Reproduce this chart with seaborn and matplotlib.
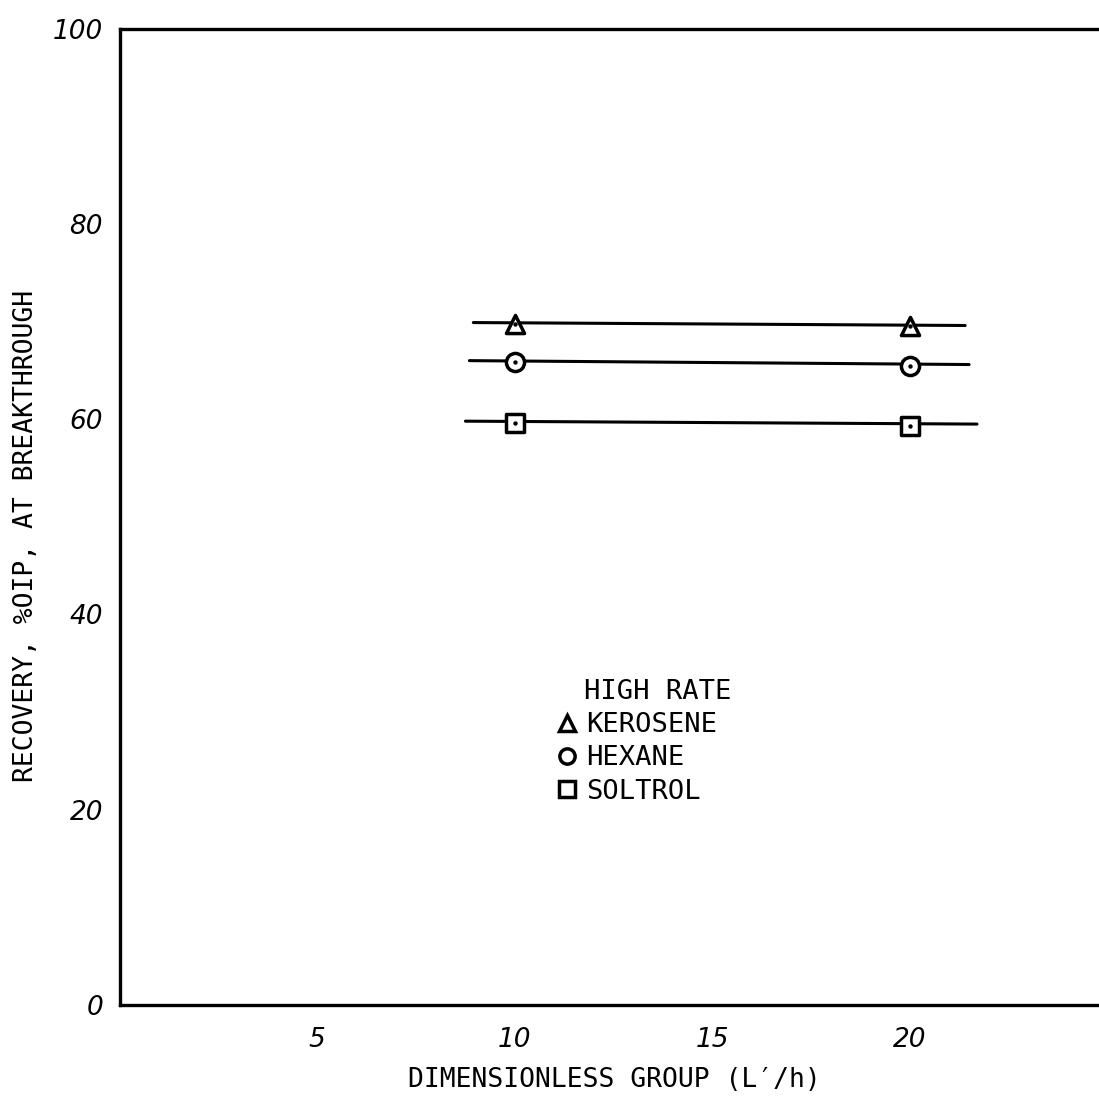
import matplotlib
matplotlib.use("Agg")
import matplotlib.pyplot as plt
import seaborn as sns
import pandas as pd
from matplotlib.lines import Line2D

# ---- data ----
fluids = ["KEROSENE", "HEXANE", "SOLTROL"]
x_points = [10, 20]
kerosene_pts = [69.8, 69.5]
hexane_pts = [65.9, 65.5]
soltrol_pts = [59.6, 59.3]

# fitted lines (start x, end x, start y, end y)
line_x_start = [8.95, 8.85, 8.75]
line_x_end = [21.4, 21.5, 21.7]
line_y_start = [69.9, 66.0, 59.8]
line_y_end = [69.6, 65.6, 59.5]

x_ticks = [5, 10, 15, 20]
x_ticklabels = ["5", "10", "15", "20"]
y_ticks = [0, 20, 40, 60, 80, 100]
y_ticklabels = ["0", "20", "40", "60", "80", "100"]

markers = {"KEROSENE": "^", "HEXANE": "o", "SOLTROL": "s"}

pts = pd.DataFrame({
    "x": x_points * 3,
    "y": kerosene_pts + hexane_pts + soltrol_pts,
    "fluid": [f for f in fluids for _ in x_points],
})
lines = pd.DataFrame({
    "x": [v for pair in zip(line_x_start, line_x_end) for v in pair],
    "y": [v for pair in zip(line_y_start, line_y_end) for v in pair],
    "fluid": [f for f in fluids for _ in range(2)],
})

sns.set_style("white")
mono = ["DejaVu Sans Mono"]

fig = plt.figure(figsize=(10.99, 11.0), dpi=100)
ax = fig.add_axes([0.109, 0.0864, 0.95, 0.8875])

sns.lineplot(data=lines, x="x", y="y", units="fluid", estimator=None,
             color="black", linewidth=2.2, ax=ax, legend=False)
for f in fluids:
    sub = pts[pts.fluid == f]
    sns.scatterplot(data=sub, x="x", y="y", marker=markers[f], s=170,
                    facecolor="white", edgecolor="black", linewidth=2.5,
                    ax=ax, legend=False, zorder=5)
    sns.scatterplot(data=sub, x="x", y="y", marker="o", s=10,
                    color="black", linewidth=0, ax=ax, legend=False, zorder=6)

ax.set_xlim(0, 26.43)
ax.set_ylim(0, 100)
ax.set_xticks(x_ticks)
ax.set_xticklabels(x_ticklabels, fontstyle="italic", fontsize=19)
ax.set_yticks(y_ticks)
ax.set_yticklabels(y_ticklabels, fontstyle="italic", fontsize=19)
ax.tick_params(axis="x", direction="out", length=6, width=1.5, pad=10, colors="black")
ax.tick_params(axis="y", direction="out", length=6, width=1.5, pad=6, colors="black")

for s in ["top", "left", "bottom"]:
    ax.spines[s].set_visible(True)
    ax.spines[s].set_color("black")
    ax.spines[s].set_linewidth(2.4)
ax.spines["right"].set_visible(False)

ax.set_xlabel("DIMENSIONLESS GROUP (L\u2032/h)", family=mono, fontsize=19, color="black")
ax.set_ylabel("RECOVERY, %OIP, AT BREAKTHROUGH", family=mono, fontsize=19, color="black")
ax.xaxis.set_label_coords(0.474, -0.064)
ax.yaxis.set_label_coords(-0.077, 0.48)

handles = [Line2D([], [], marker=markers[f], linestyle="none", markersize=11,
                  markerfacecolor="white", markeredgecolor="black",
                  markeredgewidth=2.5) for f in fluids]
leg = ax.legend(handles, fluids, title="HIGH RATE", frameon=False,
                loc="upper left", bbox_to_anchor=(0.408, 0.348),
                prop={"family": mono, "size": 19.5}, handlelength=0.6,
                handletextpad=0.4, labelspacing=0.27, borderpad=0)
for t in leg.get_texts():
    t.set_color("black")
leg.get_title().set_family(mono)
leg.get_title().set_fontsize(19.5)
leg.get_title().set_color("black")
leg._legend_box.align = "left"
leg.get_title().set_position((25, 0))

fig.savefig("out.png", dpi=100, facecolor="white")
